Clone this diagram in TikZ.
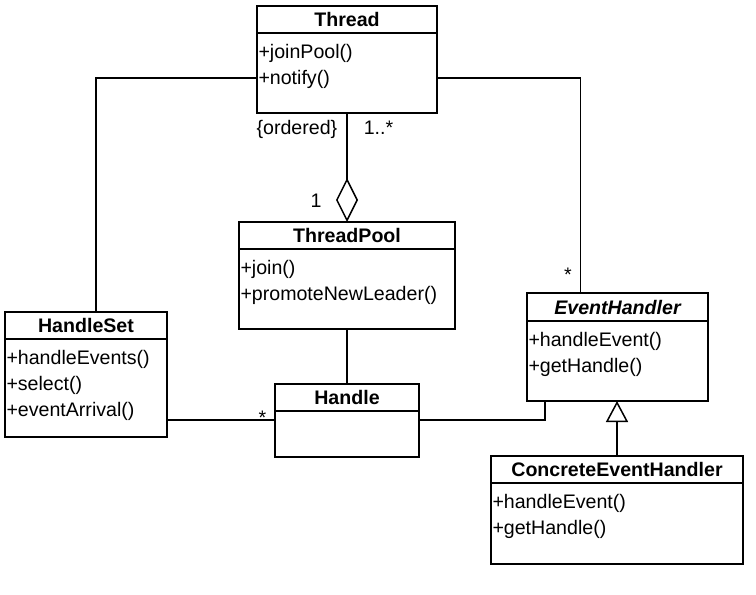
\documentclass[tikz,border=0pt]{standalone}
\usepackage{fontspec}
\setmainfont{Liberation Sans}
\usetikzlibrary{arrows.meta,positioning}

\begin{document}
\begin{tikzpicture}[
    x=1pt, y=-1pt,
    every node/.style={font=\fontsize{19.6}{26}\selectfont},
    cls/.style={draw, line width=1.5pt, outer sep=0pt, anchor=north west, minimum height=27pt, font=\fontsize{19.6}{26}\selectfont\bfseries},
    ops/.style={draw, line width=1.5pt, outer sep=0pt, inner xsep=1.5pt, inner ysep=0pt, align=left, text height=25pt},
    assoc/.style={line width=1.5pt},
    lbl/.style={inner sep=1pt},
  ]
  \useasboundingbox (0,0) rectangle (756,595);

  % classes
  \node[cls, minimum width=180pt] (thread) at (257,6) {Thread};
  \node[ops, text width=177pt, text depth=55pt, below=0pt of thread] (threadops) {+joinPool()\\+notify()};

  \node[cls, minimum width=216pt] (pool) at (239,222) {ThreadPool};
  \node[ops, text width=213pt, text depth=55pt, below=0pt of pool] (poolops) {+join()\\+promoteNewLeader()};

  \node[cls, minimum width=162pt] (hset) at (5,312) {HandleSet};
  \node[ops, text width=159pt, text depth=73pt, below=0pt of hset] (hsetops) {+handleEvents()\\+select()\\+eventArrival()};

  \node[cls, minimum width=181pt, minimum height=28pt, font=\fontsize{19.6}{26}\selectfont\bfseries\itshape] (evh) at (527,293) {EventHandler};
  \node[ops, text width=178pt, text depth=55pt, below=0pt of evh] (evhops) {+handleEvent()\\+getHandle()};

  \node[cls, minimum width=144pt] (handle) at (275,384) {Handle};
  \node[ops, text width=141pt, text depth=21pt, below=0pt of handle] (handleops) {};

  \node[cls, minimum width=252pt] (cevh) at (491,456) {ConcreteEventHandler};
  \node[ops, text width=249pt, text depth=56pt, below=0pt of cevh] (cevhops) {+handleEvent()\\+getHandle()};

  % connectors
  \draw[assoc, -{Diamond[open, length=44pt, width=22pt]}] (threadops.south) -- (pool.north)
    node[lbl, at start, anchor=north east, xshift=-8pt, yshift=-6pt] {\{ordered\}}
    node[lbl, at start, anchor=north west, xshift=15pt, yshift=-6pt] {1..*}
    node[lbl, at end, xshift=-31pt, yshift=21pt] {1};
  \draw[assoc] ([xshift=10pt]hset.north) |- ([yshift=-5pt]threadops.west);
  \draw[assoc] ([yshift=-5pt]threadops.east) -| ([xshift=-37pt]evh.north)
    node[lbl, anchor=east, xshift=-7pt, yshift=18pt] {*};
  \draw[assoc] (poolops.south) -- (handle.north);
  \coordinate (hj) at ([yshift=-9pt]handleops.north west);
  \draw[assoc] (hsetops.east |- hj) -- (hj)
    node[lbl, anchor=east, xshift=-7pt, yshift=2pt] {*};
  \draw[assoc] (hj -| handleops.east) -| ([xshift=18pt]evhops.south west);
  \draw[assoc, -{Triangle[open, length=21pt, width=22pt]}] (cevh.north) -- (cevh.north |- evhops.south);
\end{tikzpicture}
\end{document}
